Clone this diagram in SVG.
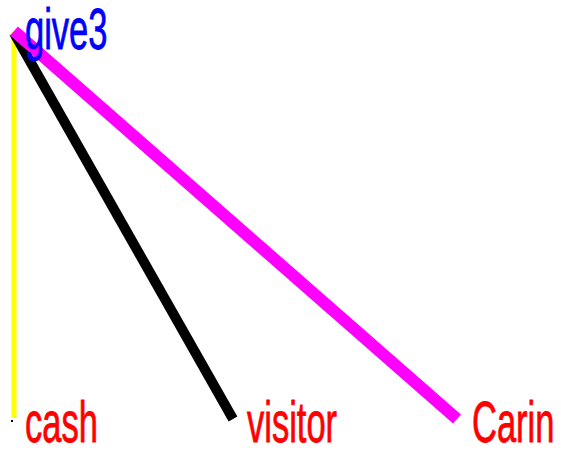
<svg xmlns="http://www.w3.org/2000/svg" width="561" height="452" viewBox="0 0 561 452">
<style>
.lbl{font-family:"Liberation Sans",Arial,sans-serif;font-size:34.5px;stroke-width:0.5px}
.dst{fill:#ff0000;stroke:#ff0000}
.src{fill:#0000ff;stroke:#0000ff}
</style>
<rect width="561" height="452" fill="#ffffff"/>
<g id="connectors" fill="none" stroke-linecap="butt">
<line id="e-cash" x1="14" y1="32" x2="14" y2="418" stroke="#ffff00" stroke-width="5"/>
<line id="e-visitor" x1="14" y1="33" x2="233" y2="419" stroke="#000000" stroke-width="10"/>
<line id="e-carin" x1="14" y1="31" x2="457" y2="419" stroke="#ff00ff" stroke-width="12"/>
</g>
<g id="give3"><text class="lbl src" transform="translate(25,49) scale(1,1.65)">give3</text></g>
<g id="cash"><rect x="11" y="420" width="2" height="2" fill="#000"/><text class="lbl dst" transform="translate(25,442) scale(1,1.65)">cash</text></g>
<g id="visitor"><text class="lbl dst" transform="translate(247,442) scale(1,1.65)">visitor</text></g>
<g id="Carin"><text class="lbl dst" transform="translate(472,442) scale(1,1.65)">Carin</text></g>
</svg>
